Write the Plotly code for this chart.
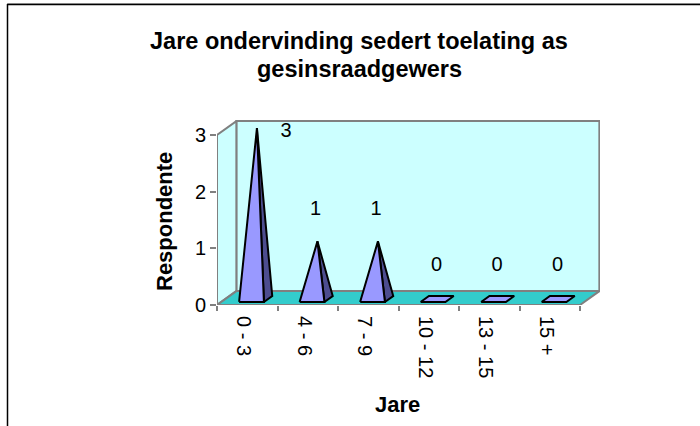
import plotly.graph_objects as go

# ---------------- data ----------------
categories = ["0 - 3", "4 - 6", "7 - 9", "10 - 12", "13 - 15", "15 +"]
respondents = [3, 1, 1, 0, 0, 0]
y_ticks = [0, 1, 2, 3]

title_lines = ["Jare ondervinding sedert toelating as", "gesinsraadgewers"]
x_title = "Jare"
y_title = "Respondente"

# ---------------- geometry / style ----------------
W, H = 700, 426
PL, PR, PT, PB = 217, 600, 120, 305      # plot area in pixels
X_PX, Y_PX = 60.5, 56.67                 # pixels per category / per unit
n = len(categories)
x_lo = -0.5
x_hi = x_lo + (PR - PL) / X_PX
y_lo = 0
y_hi = (PB - PT) / Y_PX

DX, DY = 0.32, 0.245                     # 3-D depth offset (data units)
HW, D_FRONT, D_BACK, D_APEX = 0.205, 0.22, 0.65, 0.5
LABEL_DY = 0.68
TICK_SHIFT = -0.06

FONT = "Liberation Sans, Arial, sans-serif"
WALL = "#CCFFFF"
FLOOR = "#33CCCC"
EDGE = "#808080"
FACE = "#9999FF"
SIDE = "#4D4D8F"


def pxx(x):
    return (x - PL) / (PR - PL)


def pxy(y):
    return (PB - y) / (PB - PT)


y_top = max(y_ticks)
x_end = n - 0.5

shapes = [
    # back wall
    dict(type="rect", xref="x", yref="y", x0=x_lo + DX, x1=x_end + DX, y0=DY, y1=y_top + DY,
         fillcolor=WALL, line=dict(color=EDGE, width=2), layer="below"),
    # left wall
    dict(type="path", xref="x", yref="y",
         path=f"M {x_lo},0 L {x_lo},{y_top} L {x_lo + DX},{y_top + DY} L {x_lo + DX},{DY} Z",
         fillcolor=WALL, line=dict(color=EDGE, width=2), layer="below"),
    # floor
    dict(type="path", xref="x", yref="y",
         path=f"M {x_lo},0 L {x_end},0 L {x_end + DX},{DY} L {x_lo + DX},{DY} Z",
         fillcolor=FLOOR, line=dict(color=EDGE, width=2), layer="below"),
    # outer border of the chart area
    dict(type="line", xref="paper", yref="paper", x0=pxx(7), x1=pxx(720), y0=pxy(3.5), y1=pxy(3.5),
         line=dict(color="#B0B0B0", width=1)),
    dict(type="line", xref="paper", yref="paper", x0=pxx(7.5), x1=pxx(720), y0=pxy(4.5), y1=pxy(4.5),
         line=dict(color="black", width=1.5)),
    dict(type="line", xref="paper", yref="paper", x0=pxx(7.5), x1=pxx(7.5), y0=pxy(4), y1=pxy(440),
         line=dict(color="black", width=1.5)),
]

fig = go.Figure()

lab_x, lab_y = [], []
for i, v in enumerate(respondents):
    c = i
    fl = (c - HW + DX * D_FRONT, DY * D_FRONT)
    fr = (c + HW + DX * D_FRONT, DY * D_FRONT)
    br = (c + HW + DX * D_BACK, DY * D_BACK)
    bl = (c - HW + DX * D_BACK, DY * D_BACK)
    apex = (c + DX * D_APEX, v + DY * D_APEX)
    if v > 0:
        polys = [([fr, br, apex], SIDE), ([fl, fr, apex], FACE)]
    else:
        polys = [([fl, fr, br, bl], FACE)]
    for pts, col in polys:
        xs = [p[0] for p in pts] + [pts[0][0]]
        ys = [p[1] for p in pts] + [pts[0][1]]
        fig.add_trace(go.Scatter(x=xs, y=ys, mode="lines", fill="toself", fillcolor=col,
                                 line=dict(color="black", width=2), hoverinfo="skip",
                                 showlegend=False))
    if v + LABEL_DY > y_hi:
        lab_x.append(c + 0.64)
        lab_y.append(v + 0.05)
    else:
        lab_x.append(c + 0.13)
        lab_y.append(v + LABEL_DY)

fig.add_trace(go.Scatter(x=lab_x, y=lab_y, mode="text", text=[str(v) for v in respondents],
                         textposition="middle center",
                         textfont=dict(family=FONT, size=20, color="black"),
                         hoverinfo="skip", showlegend=False, cliponaxis=False))

annotations = [
    dict(text=f"<b>{title_lines[0]}</b>", xref="paper", yref="paper", x=pxx(359), y=pxy(41),
         xanchor="center", yanchor="middle", showarrow=False,
         font=dict(family=FONT, size=23.5, color="black")),
    dict(text=f"<b>{title_lines[1]}</b>", xref="paper", yref="paper", x=pxx(359), y=pxy(69),
         xanchor="center", yanchor="middle", showarrow=False,
         font=dict(family=FONT, size=23.5, color="black")),
    dict(text=f"<b>{y_title}</b>", xref="paper", yref="paper", x=pxx(164), y=pxy(222),
         xanchor="center", yanchor="middle", textangle=-90, showarrow=False,
         font=dict(family=FONT, size=22, color="black")),
    dict(text=f"<b>{x_title}</b>", xref="paper", yref="paper", x=pxx(397), y=pxy(404.5),
         xanchor="center", yanchor="middle", showarrow=False,
         font=dict(family=FONT, size=22, color="black")),
]

fig.update_layout(
    width=W, height=H,
    margin=dict(l=PL, r=W - PR, t=PT, b=H - PB, autoexpand=False),
    paper_bgcolor="white", plot_bgcolor="white",
    font=dict(family=FONT, size=20, color="black"),
    shapes=shapes, annotations=annotations,
    xaxis=dict(range=[x_lo, x_hi], tickmode="array",
               tickvals=[i + TICK_SHIFT for i in range(n)], ticktext=categories,
               tickangle=90, ticks="", showline=False, showgrid=False, zeroline=False,
               tickfont=dict(family=FONT, size=20, color="black"), ticklabelstandoff=10,
               minor=dict(tickmode="array", tickvals=[i - 0.5 for i in range(n + 1)],
                          ticks="outside", ticklen=5, tickcolor=EDGE, tickwidth=1.5, showgrid=False)),
    yaxis=dict(range=[y_lo, y_hi], tickmode="array", tickvals=y_ticks,
               ticks="outside", ticklen=6, tickcolor=EDGE, tickwidth=1.5,
               showline=False, showgrid=False, zeroline=False,
               tickfont=dict(family=FONT, size=20, color="black")),
)

fig.write_html("out.html", config={"displayModeBar": False},
               post_script="document.body.style.margin='0px';document.body.style.overflow='hidden';")
